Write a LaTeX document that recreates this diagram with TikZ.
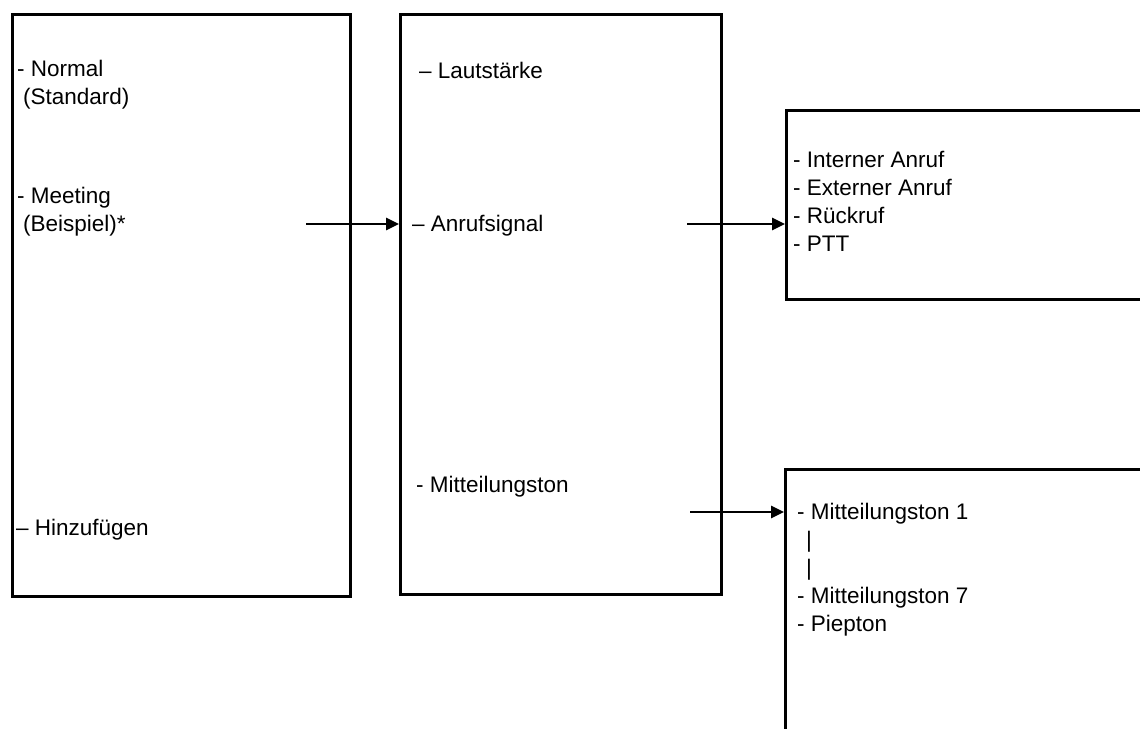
\documentclass[tikz,border=0pt]{standalone}
\usepackage{fontspec}
\setmainfont{Liberation Sans}
\usetikzlibrary{arrows.meta}

\begin{document}
\begin{tikzpicture}[
  x=1pt, y=-1pt,
  box/.style={draw, line width=3pt, anchor=north west, inner sep=0pt},
  item/.style={anchor=west, align=left, inner sep=0pt, font=\fontsize{22.5}{28}\selectfont},
  arr/.style={-{Triangle[length=13pt,width=12pt]}, line width=2.6pt}
]
\useasboundingbox (0,0) rectangle (1140,728);
\clip (0,0) rectangle (1140,728);

% boxes
\node[box, minimum width=338pt, minimum height=582pt] (modus) at (11,13) {};
\node[box, minimum width=321pt, minimum height=580pt] (signal) at (399,13) {};
\node[box, minimum width=420pt, minimum height=189pt] (ruf) at (785,109) {};
\node[box, minimum width=420pt, minimum height=320pt] (ton) at (784,468) {};

% texts
\node[item] (normal) at (17,85) {- Normal\\\hspace*{6pt}(Standard)};
\node[item] (meeting) at (17,212) {- Meeting\\\hspace*{6pt}(Beispiel)*};
\node[item] (add) at (16,530) {– Hinzufügen};
\node[item] (laut) at (419,70) {– Lautstärke};
\node[item] (anruf) at (412,226) {– Anrufsignal};
\node[item] (mitt) at (416,487) {- Mitteilungston};
\node[item] (rufliste) at (793,201) {- Interner Anruf\\- Externer Anruf\\- Rückruf\\- PTT};
\node[item] (tonliste) at (797,570) {- Mitteilungston 1\\\hspace*{9pt}|\\\hspace*{9pt}|\\- Mitteilungston 7\\- Piepton};

% connectors
\coordinate (m1) at (306,224);
\coordinate (s1) at (687,224);
\coordinate (s2) at (690,512);
\draw[arr] (m1) -- (m1 -| signal.west);
\draw[arr] (s1) -- (s1 -| ruf.west);
\draw[arr] (s2) -- (s2 -| ton.west);
\end{tikzpicture}
\end{document}
